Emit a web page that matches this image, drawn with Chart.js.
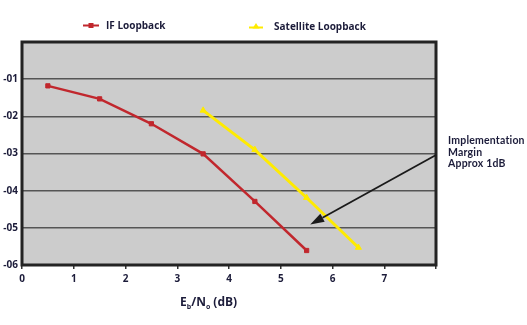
<!DOCTYPE html>
<html>
<head>
<meta charset="utf-8">
<script src="https://cdn.jsdelivr.net/npm/chart.js@4.4.0/dist/chart.umd.min.js"></script>
<style>
  html, body { margin: 0; padding: 0; background: #fff; }
  #wrap { position: relative; width: 527px; height: 325px; font-family: "Open Sans", sans-serif; font-weight: 700; color: #1c1c3a; }
  #ber_chart { position: absolute; left: 0; top: 0; }
  .legend_item { position: absolute; font-size: 10px; white-space: nowrap; }
  .note { position: absolute; left: 448px; top: 135px; font-family: Lato, sans-serif; font-size: 10.5px; line-height: 11.5px; letter-spacing: 0.2px; white-space: nowrap; }
  .axis_title { position: absolute; left: 180px; top: 293px; font-size: 12px; }
  .axis_title sub { font-size: 7px; vertical-align: -3px; }
</style>
</head>
<body>
<div id="wrap">
  <canvas id="ber_chart" width="527" height="325"></canvas>
  <div class="legend_item" style="left:106px; top:18px;">IF Loopback</div>
  <div class="legend_item" style="left:274px; top:19px;">Satellite Loopback</div>
  <div class="note">Implementation<br>Margin<br>Approx 1dB</div>
  <div class="axis_title">E<sub>b</sub>/N<sub>o</sub> (dB)</div>
</div>

<script>

// Eb/No (dB) vs log10(BER)
const if_ebno = [0.5, 1.5, 2.5, 3.5, 4.5, 5.5];
const if_ber = [-1.18, -1.53, -2.20, -3.01, -4.29, -5.61];

const sat_ebno = [3.5, 4.5, 5.5, 6.5];
const sat_ber = [-1.84, -2.90, -4.19, -5.53];

// arrow from the note to the gap between the curves
const arrow_from = { x: 8.0, y: -3.04 };
const arrow_to = { x: 5.57, y: -4.91 };

const redColor = '#c1272d';
const yellowColor = '#ffeb00';
const textColor = '#1c1c3a';

function toPoints(xs, ys){
    return xs.map((x, i) => ({ x: x, y: ys[i] }));
}

// gray plot background + heavy frame + arrow
const framePlugin = {
    id: 'frame',
    beforeDraw(chart){
        const a = chart.chartArea;
        const ctx = chart.ctx;
        ctx.save();
        ctx.fillStyle = '#cccccc';
        ctx.fillRect(a.left, a.top, a.right - a.left, a.bottom - a.top);
        ctx.restore();
    },
    afterDatasetsDraw(chart){
        const a = chart.chartArea;
        const ctx = chart.ctx;
        const xs = chart.scales.x;
        const ys = chart.scales.y;

        ctx.save();
        ctx.strokeStyle = '#232323';
        ctx.lineWidth = 3;
        ctx.strokeRect(a.left, a.top, a.right - a.left, a.bottom - a.top);

        // arrow
        const x1 = xs.getPixelForValue(arrow_from.x);
        const y1 = ys.getPixelForValue(arrow_from.y);
        const x2 = xs.getPixelForValue(arrow_to.x);
        const y2 = ys.getPixelForValue(arrow_to.y);
        const ang = Math.atan2(y2 - y1, x2 - x1);
        const head = 14;
        const bx = x2 - head * Math.cos(ang);
        const by = y2 - head * Math.sin(ang);

        ctx.strokeStyle = '#1a1a1a';
        ctx.fillStyle = '#1a1a1a';
        ctx.lineWidth = 1.8;
        ctx.beginPath();
        ctx.moveTo(x1, y1);
        ctx.lineTo(bx, by);
        ctx.stroke();

        ctx.beginPath();
        ctx.moveTo(x2, y2);
        ctx.lineTo(bx + 4.5 * Math.sin(ang), by - 4.5 * Math.cos(ang));
        ctx.lineTo(bx - 4.5 * Math.sin(ang), by + 4.5 * Math.cos(ang));
        ctx.closePath();
        ctx.fill();

        // legend swatches
        ctx.strokeStyle = redColor;
        ctx.fillStyle = redColor;
        ctx.lineWidth = 2;
        ctx.beginPath();
        ctx.moveTo(83, 25.5);
        ctx.lineTo(99, 25.5);
        ctx.stroke();
        ctx.fillRect(88.5, 23, 5, 5);

        ctx.strokeStyle = yellowColor;
        ctx.fillStyle = yellowColor;
        ctx.beginPath();
        ctx.moveTo(249, 27.5);
        ctx.lineTo(263, 27.5);
        ctx.stroke();
        ctx.beginPath();
        ctx.moveTo(256, 23);
        ctx.lineTo(259.5, 28.5);
        ctx.lineTo(252.5, 28.5);
        ctx.closePath();
        ctx.fill();

        ctx.restore();
    }
};

document.addEventListener("DOMContentLoaded", () => {

    new Chart(ber_chart, {
        type: 'line',
        data: {
            datasets: [{
                label: 'IF Loopback',
                data: toPoints(if_ebno, if_ber),
                borderColor: redColor,
                backgroundColor: redColor,
                borderWidth: 2.5,
                pointStyle: 'rect',
                pointRadius: 3,
                pointHoverRadius: 3,
                pointBorderWidth: 1,
                tension: 0
            }, {
                label: 'Satellite Loopback',
                data: toPoints(sat_ebno, sat_ber),
                borderColor: yellowColor,
                backgroundColor: yellowColor,
                borderWidth: 3,
                pointStyle: 'triangle',
                pointRadius: 3.5,
                pointHoverRadius: 3.5,
                pointBorderWidth: 1,
                tension: 0
            }]
        },
        options: {
            responsive: false,
            animation: false,
            layout: { padding: { top: 42, right: 91, left: 0, bottom: 0 } },
            plugins: {
                legend: { display: false },
                tooltip: { enabled: false }
            },
            scales: {
                x: {
                    type: 'linear',
                    min: 0,
                    max: 8,
                    afterFit: scale => { scale.height = 60; },
                    border: { display: false },
                    grid: { drawOnChartArea: false, drawTicks: true, tickLength: 4, color: '#333', lineWidth: 1.5 },
                    ticks: {
                        stepSize: 1,
                        padding: 4,
                        maxRotation: 0,
                        color: textColor,
                        font: { family: 'Open Sans', weight: 'bold', size: 10 },
                        callback: v => v === 8 ? '' : v
                    }
                },
                y: {
                    type: 'linear',
                    min: -6,
                    max: 0,
                    afterFit: scale => { scale.width = 22; },
                    border: { display: false },
                    grid: { drawTicks: false, color: '#555', lineWidth: 1.6 },
                    ticks: {
                        stepSize: 1,
                        padding: 4,
                        color: textColor,
                        font: { family: 'Open Sans', weight: 'bold', size: 10 },
                        callback: v => v === 0 ? '' : '-0' + Math.abs(v)
                    }
                }
            }
        },
        plugins: [framePlugin]
    });

});
</script>
</body>
</html>
